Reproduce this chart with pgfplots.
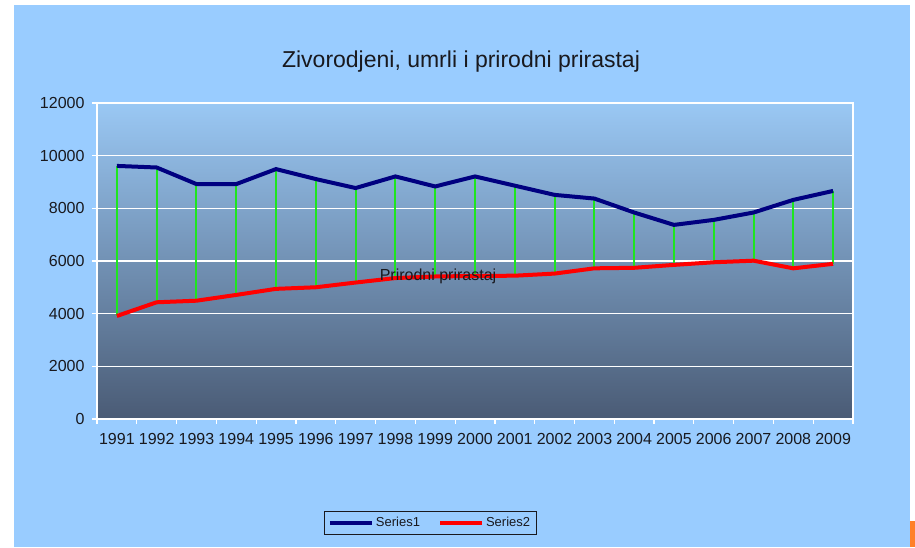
\documentclass[border=0pt]{standalone}
\usepackage{pgfplots}
\usepackage{pgfplotstable}
\usepackage{fontspec}
\setmainfont{Liberation Sans}
\pgfplotsset{compat=1.18}

\definecolor{bgblue}{RGB}{153,204,255}
\definecolor{plottop}{RGB}{154,200,244}
\definecolor{plotbot}{RGB}{74,91,117}
\definecolor{navy}{RGB}{0,0,128}
\definecolor{dropgreen}{RGB}{30,230,30}
\definecolor{txt}{RGB}{25,25,30}
\definecolor{cornerorange}{RGB}{255,128,40}

% births (Series1) and deaths (Series2)
\pgfplotstableread{
x  year  a     b
0  1991  9610  3910
1  1992  9550  4430
2  1993  8920  4490
3  1994  8920  4710
4  1995  9490  4940
5  1996  9110  5000
6  1997  8770  5180
7  1998  9210  5350
8  1999  8830  5410
9  2000  9210  5430
10 2001  8860  5440
11 2002  8510  5520
12 2003  8370  5720
13 2004  7840  5740
14 2005  7370  5850
15 2006  7560  5950
16 2007  7840  6010
17 2008  8320  5720
18 2009  8660  5890
}\vitals

\begin{document}
\begin{tikzpicture}[x=1pt,y=1pt]
\fill[white] (0,0) rectangle (915,547);
\fill[bgblue] (14,0) rectangle (910,542);
\fill[cornerorange] (910,0) rectangle (915,26);

\node[text=txt, font=\fontsize{23}{27}\selectfont] at (461,485) {Zivorodjeni, umrli i prirodni prirastaj};

\begin{axis}[
  at={(97pt,128.1pt)}, anchor=south west,
  scale only axis,
  width=756pt, height=315.9pt,
  xmin=-0.5, xmax=18.5,
  ymin=0, ymax=12000,
  xtick={0,...,18},
  xticklabels={1991,1992,1993,1994,1995,1996,1997,1998,1999,2000,2001,2002,2003,2004,2005,2006,2007,2008,2009},
  minor xtick={-0.5,0.5,...,18.5},
  ytick={0,2000,...,12000},
  xtick pos=lower, ytick pos=left,
  major x tick style={draw=none},
  tick align=outside,
  major tick length=5pt, minor tick length=5pt,
  tick style={white, line width=1.2pt},
  ymajorgrids,
  grid style={white, line width=1.2pt},
  axis line style={white, line width=1.5pt},
  axis background/.style={top color=plottop, bottom color=plotbot},
  ticklabel style={text=txt, font=\fontsize{16}{18}\selectfont},
  xticklabel style={yshift=-6pt},
  yticklabel style={xshift=-4pt},
  /pgf/number format/assume math mode=true,
  scaled y ticks=false,
  yticklabel={\pgfmathprintnumber[fixed,1000 sep={}]{\tick}},
  legend style={at={(0.4405,-0.329)}, anchor=center, draw=txt, line width=0.8pt,
    fill=none, font=\fontsize{13}{15}\selectfont, text=txt, legend columns=2,
    inner xsep=4pt, inner ysep=4pt},
  legend cell align=left,
  legend image code/.code={\draw[#1] (0pt,0pt) -- (42pt,0pt);},
  /tikz/every even column/.append style={column sep=16pt},
]
\addplot[draw=none, mark=none, forget plot,
  error bars/.cd, y dir=minus, y explicit,
  error mark=none, error bar style={dropgreen, line width=2pt}]
  table[x=x, y=a, y error expr=\thisrow{a}-\thisrow{b}] {\vitals};
\addplot[navy, line width=4pt, mark=none] table[x=x, y=a] {\vitals};
\addplot[red, line width=4pt, mark=none] table[x=x, y=b] {\vitals};
\legend{Series1,Series2}
\node[text=txt, font=\fontsize{16}{18}\selectfont] at (axis cs:8.07,5400) {Prirodni prirastaj};
\end{axis}
\end{tikzpicture}
\end{document}
